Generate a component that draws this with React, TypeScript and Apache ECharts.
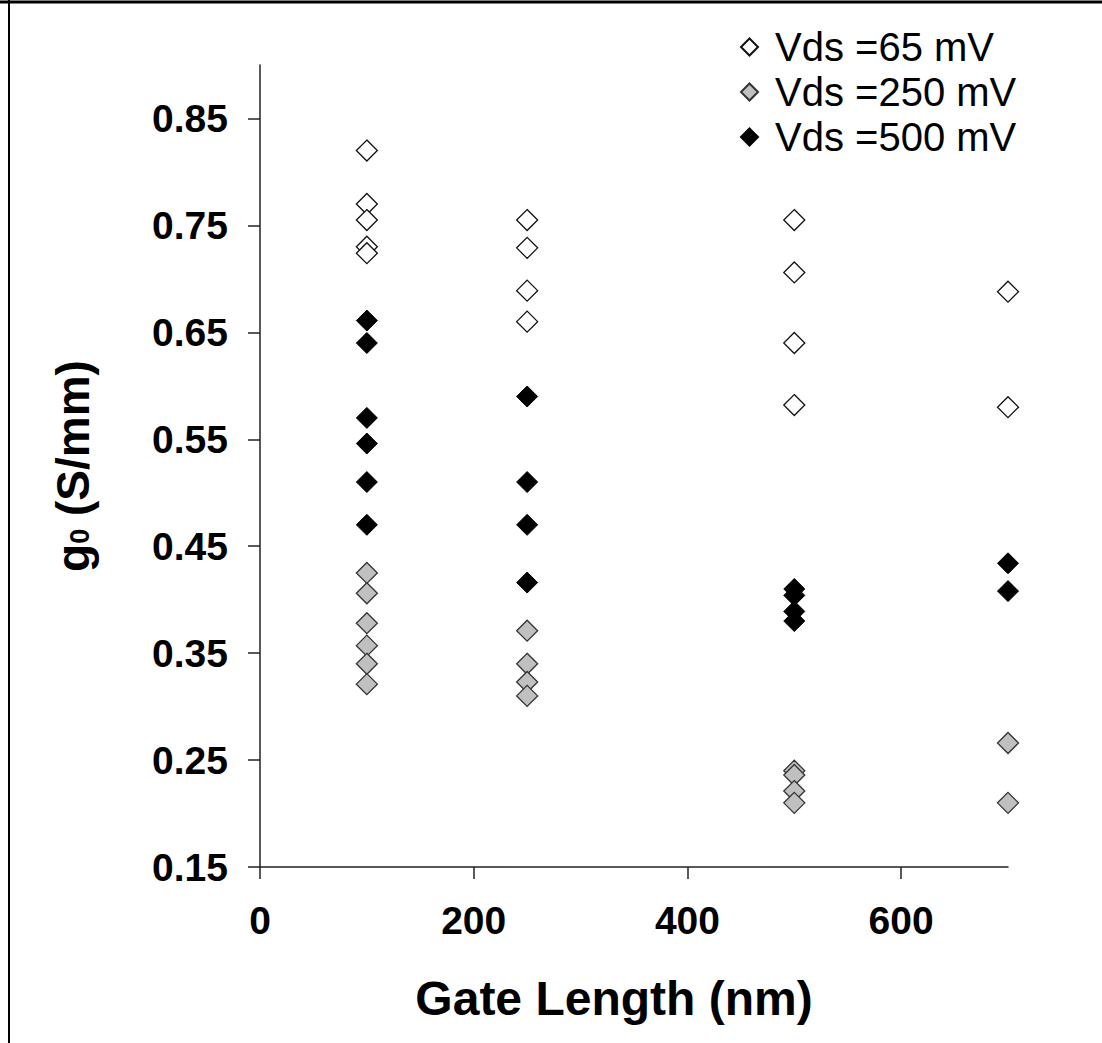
import React, { useEffect, useRef } from "react";
import * as echarts from "echarts";

const seriesNames = ["Vds =65 mV", "Vds =250 mV", "Vds =500 mV"];

const vds65: [number, number][] = [
  [100, 0.82], [100, 0.77], [100, 0.755], [100, 0.73], [100, 0.724],
  [250, 0.755], [250, 0.729], [250, 0.689], [250, 0.66],
  [500, 0.755], [500, 0.706], [500, 0.64], [500, 0.582],
  [700, 0.688], [700, 0.58],
];

const vds250: [number, number][] = [
  [100, 0.425], [100, 0.406], [100, 0.378], [100, 0.357], [100, 0.34], [100, 0.321],
  [250, 0.371], [250, 0.34], [250, 0.323], [250, 0.31],
  [500, 0.24], [500, 0.236], [500, 0.221], [500, 0.21],
  [700, 0.266], [700, 0.21],
];

const vds500: [number, number][] = [
  [100, 0.661], [100, 0.64], [100, 0.57], [100, 0.546], [100, 0.51], [100, 0.47],
  [250, 0.59], [250, 0.51], [250, 0.47], [250, 0.416],
  [500, 0.41], [500, 0.404], [500, 0.389], [500, 0.38],
  [700, 0.434], [700, 0.408],
];

const xTicks = [0, 200, 400, 600];
const yTicks = [0.15, 0.25, 0.35, 0.45, 0.55, 0.65, 0.75, 0.85];

const FONT = "'Liberation Sans', Arial, sans-serif";

export default function App() {
  const ref = useRef<HTMLDivElement>(null);
  useEffect(() => {
    if (!ref.current) return;
    const chart = echarts.init(ref.current, undefined, { renderer: "svg" });
    const axisLineStyle = { color: "#222", width: 1.5 };
    chart.setOption({
      animation: false,
      backgroundColor: "#fff",
      textStyle: { fontFamily: FONT },
      grid: { left: 260, right: 94, top: 65, bottom: 176, containLabel: false },
      legend: {
        orient: "vertical",
        left: 735,
        top: 22,
        itemWidth: 17,
        itemHeight: 17,
        itemGap: 5,
        data: seriesNames.map((n) => ({ name: n, icon: "diamond" })),
        textStyle: { fontSize: 40, color: "#000", fontFamily: FONT, padding: [0, 0, 0, 12] },
      },
      xAxis: {
        type: "value",
        min: 0,
        max: 700,
        name: "Gate Length (nm)",
        nameLocation: "middle",
        nameGap: 107,
        nameTextStyle: {
          fontSize: 48,
          fontWeight: "bold",
          color: "#000",
          fontFamily: FONT,
          padding: [0, 40, 0, 0],
        },
        axisLine: { show: true, lineStyle: axisLineStyle },
        axisTick: { show: true, inside: false, length: 12, lineStyle: axisLineStyle, customValues: xTicks },
        axisLabel: {
          show: true,
          margin: 34,
          fontSize: 39,
          fontWeight: "bold",
          color: "#000",
          fontFamily: FONT,
          customValues: xTicks,
        },
        splitLine: { show: false },
      },
      yAxis: {
        type: "value",
        min: 0.15,
        max: 0.9,
        name: "{g|g}{s|0}{g| (S/mm)}",
        nameLocation: "middle",
        nameGap: 164,
        nameRotate: 90,
        nameTextStyle: {
          fontSize: 46,
          fontWeight: "bold",
          color: "#000",
          fontFamily: FONT,
          rich: {
            g: { fontSize: 46, fontWeight: "bold", color: "#000", fontFamily: FONT },
            s: { fontSize: 27, fontWeight: "bold", color: "#000", fontFamily: FONT, padding: [14, 0, 0, 0] },
          },
        },
        axisLine: { show: true, lineStyle: axisLineStyle },
        axisTick: { show: true, inside: false, length: 12, lineStyle: axisLineStyle, customValues: yTicks },
        axisLabel: {
          show: true,
          margin: 32,
          fontSize: 39,
          fontWeight: "bold",
          color: "#000",
          fontFamily: FONT,
          customValues: yTicks,
          formatter: (v: number) => v.toFixed(2),
        },
        splitLine: { show: false },
      },
      graphic: [
        { type: "line", shape: { x1: 0, y1: 2, x2: 1102, y2: 2 }, style: { stroke: "#000", lineWidth: 3 } },
        { type: "line", shape: { x1: 9, y1: 0, x2: 9, y2: 1043 }, style: { stroke: "#000", lineWidth: 2 } },
      ],
      series: [
        {
          name: seriesNames[0],
          type: "scatter",
          symbol: "diamond",
          symbolSize: 21,
          data: vds65,
          itemStyle: { color: "#fff", borderColor: "#111", borderWidth: 1.3, opacity: 1 },
        },
        {
          name: seriesNames[1],
          type: "scatter",
          symbol: "diamond",
          symbolSize: 21,
          data: vds250,
          itemStyle: { color: "#c0c0c0", borderColor: "#333", borderWidth: 1.3, opacity: 1 },
        },
        {
          name: seriesNames[2],
          type: "scatter",
          symbol: "diamond",
          symbolSize: 21,
          data: vds500,
          itemStyle: { color: "#000", borderColor: "#000", borderWidth: 1, opacity: 1 },
        },
      ],
    });
    return () => chart.dispose();
  }, []);
  return (
    <div
      ref={ref}
      style={{ position: "absolute", left: 0, top: 0, width: 1102, height: 1043, background: "#fff" }}
    />
  );
}
